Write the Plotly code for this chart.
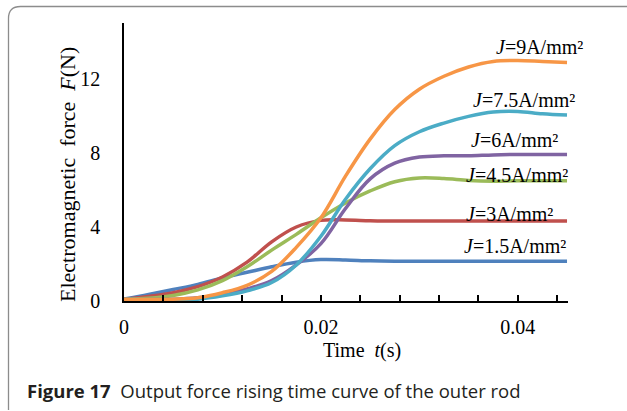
import plotly.graph_objects as go

# ---- data ----
t = [0, 0.0025, 0.005, 0.0075, 0.01, 0.0125, 0.015, 0.0175, 0.02, 0.0225,
     0.025, 0.0275, 0.03, 0.0325, 0.035, 0.0375, 0.04, 0.0425, 0.045]

f_j1_5 = [0.1, 0.35, 0.62, 0.9, 1.25, 1.55, 1.85, 2.1, 2.24, 2.22,
          2.17, 2.15, 2.15, 2.15, 2.15, 2.15, 2.15, 2.15, 2.15]
f_j3 = [0.1, 0.25, 0.45, 0.78, 1.3, 2.1, 3.2, 4.0, 4.36, 4.38,
        4.34, 4.32, 4.33, 4.33, 4.33, 4.33, 4.33, 4.33, 4.33]
f_j4_5 = [0.1, 0.15, 0.3, 0.6, 1.1, 1.85, 2.75, 3.6, 4.5, 5.3,
          5.95, 6.45, 6.65, 6.62, 6.52, 6.48, 6.5, 6.5, 6.5]
f_j6 = [0.1, 0.08, 0.1, 0.18, 0.35, 0.65, 1.1, 1.95, 3.1, 5.0,
        6.6, 7.45, 7.78, 7.85, 7.85, 7.9, 7.92, 7.92, 7.92]
f_j7_5 = [0.1, 0.05, 0.05, 0.1, 0.28, 0.55, 1.0, 1.95, 3.5, 5.5,
          7.15, 8.4, 9.15, 9.62, 9.98, 10.22, 10.25, 10.12, 10.05]
f_j9 = [0.1, 0.08, 0.1, 0.18, 0.45, 0.85, 1.6, 2.9, 4.5, 6.75,
        8.75, 10.35, 11.45, 12.15, 12.65, 12.95, 13.0, 12.95, 12.9]

series_names = ["J=1.5A/mm2", "J=3A/mm2", "J=4.5A/mm2", "J=6A/mm2", "J=7.5A/mm2", "J=9A/mm2"]
series_vals = [f_j1_5, f_j3, f_j4_5, f_j6, f_j7_5, f_j9]
series_colors = ["#4F81BD", "#C0504D", "#9BBB59", "#8064A2", "#4BACC6", "#F79646"]

label_texts = ["<i>J</i>=1.5A/mm²", "<i>J</i>=3A/mm²",
               "<i>J</i>=4.5A/mm²", "<i>J</i>=6A/mm²",
               "<i>J</i>=7.5A/mm²", "<i>J</i>=9A/mm²"]

x_ticks = [0, 0.02, 0.04]
x_tick_labels = ["0", "0.02", "0.04"]
y_ticks = [0, 4, 8, 12]
y_tick_labels = ["0", "4", "8", "12"]

# ---- layout geometry (pixels) ----
W, H = 627, 411
L, R, T, B = 124, 568, 23, 301


def px(x):
    return (x - L) / (R - L)


def py(y):
    return (B - y) / (B - T)


SERIF = "Liberation Serif, Times New Roman, serif"

fig = go.Figure()
for name, vals, col in zip(series_names, series_vals, series_colors):
    fig.add_trace(go.Scatter(x=t, y=vals, mode="lines", name=name,
                             line=dict(color=col, width=3.5, shape="spline", smoothing=1.0),
                             showlegend=False, hoverinfo="skip"))

# right-hand labels: (right edge px, center y px)
label_pos = [(568, 246), (555, 214), (570, 175), (560, 140), (577, 100), (585, 47)]
annotations = []
for txt, (xr, yc) in zip(label_texts, label_pos):
    annotations.append(dict(xref="paper", yref="paper", x=px(xr), y=py(yc),
                            xanchor="right", yanchor="middle", text=txt, showarrow=False,
                            font=dict(family=SERIF, size=20, color="black")))

# axis titles
annotations.append(dict(xref="paper", yref="paper", x=px(362), y=py(350),
                        xanchor="center", yanchor="middle",
                        text="Time\u00a0\u00a0<i>t</i>(s)", showarrow=False,
                        font=dict(family=SERIF, size=20, color="black")))
annotations.append(dict(xref="paper", yref="paper", x=px(68), y=py(175),
                        xanchor="center", yanchor="middle", textangle=-90,
                        text="Electromagnetic\u00a0\u00a0force\u00a0\u00a0<i>F</i>(N)", showarrow=False,
                        font=dict(family=SERIF, size=22, color="black")))
# caption
annotations.append(dict(xref="paper", yref="paper", x=px(25), y=py(390),
                        xanchor="left", yanchor="middle",
                        text="<b>Figure 17</b>\u00a0\u00a0Output force rising time curve of the outer rod",
                        showarrow=False,
                        font=dict(family="Open Sans, Noto Sans, sans-serif", size=18.5, color="#231f20")))

# figure frame (rounded corner, open at right/bottom)
x0, y0, r = 8.5, 6.5, 12
frame_path = (f"M {px(x0)} {py(410)} L {px(x0)} {py(y0 + r)} "
              f"Q {px(x0)} {py(y0)} {px(x0 + r)} {py(y0)} L {px(640)} {py(y0)}")

fig.update_layout(
    width=W, height=H,
    margin=dict(l=L, r=W - R, t=T, b=H - B),
    paper_bgcolor="white", plot_bgcolor="white",
    annotations=annotations,
    shapes=[dict(type="path", xref="paper", yref="paper", path=frame_path,
                 line=dict(color="#8c8c8c", width=1.3), layer="below")],
    xaxis=dict(range=[0, 0.0451], tickvals=x_ticks, ticktext=x_tick_labels,
               showgrid=False, zeroline=False, showline=True, linecolor="black", linewidth=2,
               ticks="inside", ticklen=6, tickwidth=1.5, tickcolor="black",
               minor=dict(dtick=0.004, tick0=0, ticks="inside", ticklen=6, tickwidth=1.5,
                          tickcolor="black", showgrid=False),
               ticklabelstandoff=7,
               tickfont=dict(family=SERIF, size=20, color="black")),
    yaxis=dict(range=[0, 15.03], tickvals=y_ticks, ticktext=y_tick_labels,
               showgrid=False, zeroline=False, showline=True, linecolor="black", linewidth=1.5,
               ticks="", ticklabelstandoff=18,
               tickfont=dict(family=SERIF, size=20, color="black")),
)

fig.write_html("out.html")
